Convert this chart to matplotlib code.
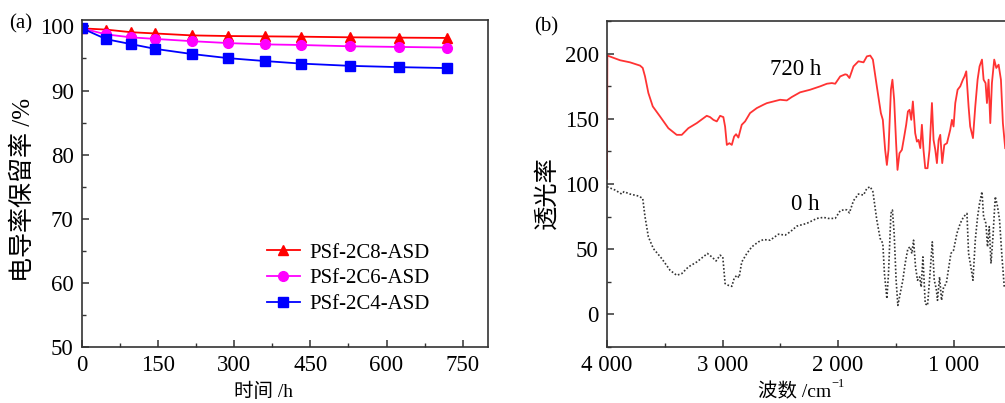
import matplotlib
matplotlib.use("Agg")
import matplotlib.pyplot as plt
from matplotlib.ticker import MultipleLocator, FuncFormatter

SERIF = ["Liberation Serif", "Noto Sans CJK SC", "DejaVu Serif"]
plt.rcParams["font.family"] = SERIF

# ---- panel (a): conductivity retention ----
hours = [0, 48, 96, 144, 216, 288, 360, 432, 528, 624, 720]
ret_2c8 = [99.7, 99.5, 99.1, 98.9, 98.6, 98.5, 98.45, 98.4, 98.3, 98.25, 98.2]
ret_2c6 = [99.7, 98.75, 98.3, 98.05, 97.7, 97.4, 97.2, 97.1, 96.9, 96.8, 96.7]
ret_2c4 = [99.7, 98.0, 97.25, 96.5, 95.7, 95.05, 94.6, 94.2, 93.85, 93.65, 93.5]
labels_a = ["PSf-2C8-ASD", "PSf-2C6-ASD", "PSf-2C4-ASD"]

# ---- panel (b): FTIR spectra ----
wn_720 = [4000, 3997, 3887, 3801, 3714, 3691, 3671, 3642, 3604, 3541, 3469, 3397,
          3353, 3296, 3223, 3137, 3108, 3079, 3050, 3021, 2993, 2978, 2963, 2941,
          2920, 2900, 2883, 2863, 2834, 2805, 2762, 2704, 2646, 2617, 2502, 2444,
          2401, 2329, 2242, 2155, 2097, 2054, 2025, 1982, 1939, 1924, 1902, 1867,
          1824, 1780, 1751, 1722, 1699, 1665, 1630, 1613, 1593, 1578, 1564, 1543,
          1530, 1515, 1498, 1486, 1469, 1448, 1428, 1411, 1396, 1382, 1367, 1353,
          1333, 1318, 1304, 1289, 1275, 1261, 1246, 1226, 1209, 1188, 1174, 1159,
          1145, 1130, 1116, 1099, 1081, 1058, 1030, 1015, 1001, 986, 966, 943,
          920, 906, 891, 871, 857, 833, 813, 793, 776, 755, 741, 724, 712, 698,
          683, 669, 649, 631, 611, 591, 574, 554]
tr_720 = [104, 198.5, 194.9, 193.3, 190.8, 189, 182.5, 169.8, 159.5, 151.8, 142.8, 137.7,
          137.7, 142.8, 146.7, 152.3, 151.3, 149.2, 148, 152.3, 151.3, 144, 130, 131.3,
          130, 136.4, 138.2, 135.6, 145.4, 148, 154.4, 158.2, 160.8, 162, 164.6, 164.1,
          166.7, 170.3, 172.3, 174.9, 176.9, 177.4, 176.9, 182.5, 184.1, 183.8, 181.3, 190.2,
          194.1, 193.3, 197.9, 198.5, 195.4, 174.9, 154.4, 149.2, 126.2, 114.6, 126.2, 172.3,
          180, 164.6, 131.3, 110.8, 123.6, 126.2, 136.4, 145.4, 155.6, 156.9, 149.2, 163.3,
          139, 132.5, 133.8, 127.5, 145.4, 126.2, 112.1, 112.1, 126.2, 162.1, 133.8, 126.2,
          116, 133.8, 137.7, 116, 130, 131.3, 141.5, 149.2, 144.1, 162.1, 172.3, 174.9,
          180, 182.5, 186.4, 159.5, 144.1, 135.2, 159.5, 180, 190.2, 195.4, 180, 177.4, 162.1, 180,
          146.7, 177.4, 195.4, 189, 191.5, 180, 146.7, 127.5]

wn_0 = [4000, 3931, 3873, 3853, 3801, 3729, 3691, 3671, 3642, 3599, 3526, 3454,
        3397, 3353, 3296, 3223, 3131, 3093, 3056, 3021, 2998, 2978, 2950, 2920,
        2900, 2877, 2857, 2834, 2790, 2747, 2690, 2646, 2588, 2516, 2458, 2415,
        2357, 2271, 2184, 2127, 2084, 2025, 1982, 1939, 1924, 1902, 1867, 1824,
        1780, 1751, 1722, 1699, 1665, 1636, 1613, 1599, 1578, 1564, 1543, 1530,
        1515, 1498, 1483, 1463, 1440, 1420, 1396, 1376, 1362, 1347, 1330, 1313,
        1295, 1281, 1266, 1246, 1226, 1209, 1185, 1168, 1151, 1140, 1122, 1105,
        1087, 1064, 1024, 1001, 972, 943, 914, 885, 871, 851, 833, 813, 793, 776,
        755, 741, 721, 707, 692, 677, 660, 640, 620, 603, 582, 562]
tr_0 = [97.9, 95.4, 92.3, 94.1, 92.3, 90.8, 89, 74.9, 59.5, 50.5, 42.8, 33.8,
        30, 31.3, 36.4, 40.2, 46.7, 44.1, 41, 45.4, 44.1, 23.6, 22.3, 21.5,
        27.5, 30, 28.2, 40.2, 46.7, 51.8, 55.6, 57.4, 56.9, 61.5, 60.8, 63.3,
        67.7, 69.8, 73.6, 74.4, 73.6, 73.6, 79.5, 80.5, 80, 77.9, 87.2, 92.3,
        91.5, 96.7, 97.9, 94.1, 72.3, 58.2, 54.4, 31.3, 12.1, 31.3, 77.4, 80,
        62.1, 26.2, 6.9, 15.9, 26.2, 39, 50.5, 51.8, 46.7, 56.9, 36.4, 26.2,
        28.7, 21, 44.1, 8.2, 6.9, 26.2, 55.6, 26.2, 19.8, 10.8, 28.7, 10.8,
        21, 23.6, 46.7, 49.2, 62.1, 69.8, 74.9, 77.4, 46.7, 36.4, 26.2, 56.9, 74.9, 85.1,
        94.1, 74.9, 69.8, 51.8, 67.3, 39, 59.5, 90.3, 82.6, 72.3, 44.1, 21]

W, H = 1005, 403
fig = plt.figure(figsize=(W / 100, H / 100), dpi=100)


def style_axes(ax):
    for s in ax.spines.values():
        s.set_color("#333333")
        s.set_linewidth(1.2)
    ax.tick_params(which="both", direction="in", top=False, right=False,
                   color="#333333", labelsize=16.5)
    ax.tick_params(which="major", length=5, width=1.1, pad=6)
    ax.tick_params(which="minor", length=3, width=1.0)


# panel (a)
ax1 = fig.add_axes([82 / W, 1 - 347 / H, 406 / W, 327 / H])
ax1.plot(hours, ret_2c8, color="#ff0000", marker="^", ms=7, lw=1.3, label=labels_a[0])
ax1.plot(hours, ret_2c6, color="#ff00ff", marker="o", ms=7, lw=1.3, label=labels_a[1])
ax1.plot(hours, ret_2c4, color="#0000ff", marker="s", ms=6.5, lw=1.3, label=labels_a[2])
ax1.set_xlim(0, 800)
ax1.set_ylim(50, 101)
ax1.xaxis.set_major_locator(MultipleLocator(150))
ax1.xaxis.set_minor_locator(MultipleLocator(75))
ax1.yaxis.set_major_locator(MultipleLocator(10))
ax1.yaxis.set_minor_locator(MultipleLocator(5))
style_axes(ax1)
ax1.legend(loc="upper left", bbox_to_anchor=(0.455, 0.318), frameon=False,
           fontsize=15, handlelength=1.6, handletextpad=0.45, labelspacing=0.3,
           borderpad=0, borderaxespad=0)

# panel (b)
ax2 = fig.add_axes([607 / W, 1 - 347 / H, 416 / W, 326 / H])
ax2.plot(wn_720, tr_720, color="#ff3333", lw=1.3)
ax2.plot(wn_0, tr_0, color="#333333", lw=1.2, ls=(0, (1, 1.2)))
ax2.set_xlim(4000, 400)
ax2.set_ylim(-25, 225)
ax2.xaxis.set_major_locator(MultipleLocator(1000))
ax2.xaxis.set_minor_locator(MultipleLocator(500))
ax2.yaxis.set_major_locator(MultipleLocator(50))
ax2.yaxis.set_minor_locator(MultipleLocator(25))
ax2.xaxis.set_major_formatter(FuncFormatter(lambda v, p: f"{int(v):,}".replace(",", " ")))
style_axes(ax2)
ax2.text(2363, 187.7, "720 h", fontsize=16.5, ha="center", va="center")
ax2.text(2285, 84.6, "0 h", fontsize=16.5, ha="center", va="center")

# panel letters and axis titles
fig.text(21 / W, 1 - 24 / H, "(a)", fontsize=15, ha="center", va="center")
fig.text(546 / W, 1 - 27 / H, "(b)", fontsize=15, ha="center", va="center")
fig.text(23 / W, 1 - 190 / H, "电导率保留率 /%", fontsize=18, rotation=90,
         ha="center", va="center")
fig.text(547 / W, 1 - 193 / H, "透光率", fontsize=17.5, rotation=90,
         ha="center", va="center")
fig.text(264 / W, 1 - 392 / H, "时间 /h", fontsize=14, ha="center", va="center")
xl = fig.text(795 / W, 1 - 392 / H, "波数 /cm", fontsize=14, ha="center", va="center")
ax2.annotate("−1", xy=(1, 0.62), xycoords=xl, fontsize=9, ha="left", va="bottom")

fig.savefig("out.png", dpi=100)
